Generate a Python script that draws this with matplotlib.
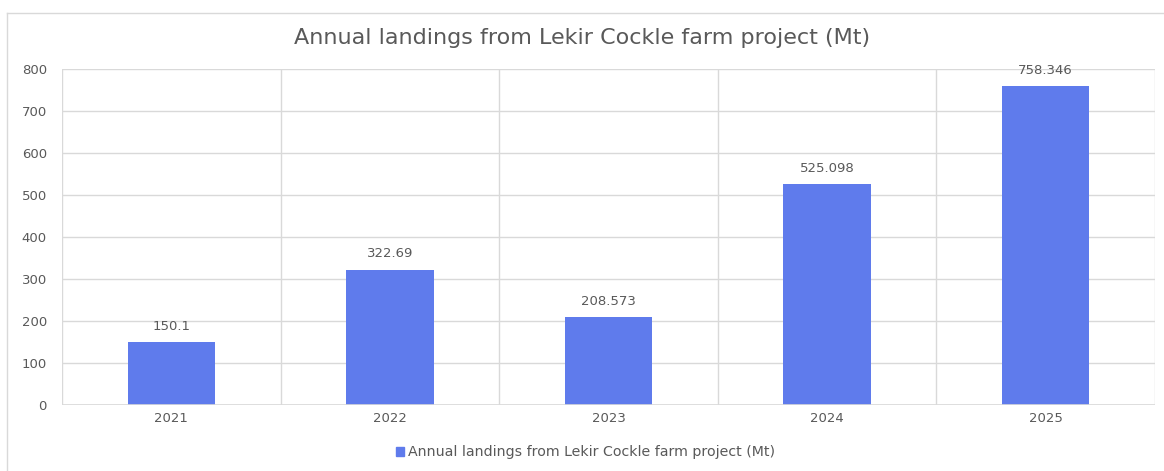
import matplotlib.pyplot as plt
from matplotlib.lines import Line2D

years = ["2021", "2022", "2023", "2024", "2025"]
landings = [150.1, 322.69, 208.573, 525.098, 758.346]
value_labels = ["150.1", "322.69", "208.573", "525.098", "758.346"]
series_name = "Annual landings from Lekir Cockle farm project (Mt)"
title = "Annual landings from Lekir Cockle farm project (Mt)"

BAR_COLOR = "#5f7bec"
TEXT_COLOR = "#595959"
GRID_COLOR = "#d9d9d9"

plt.rcParams["font.family"] = ["DejaVu Sans"]

fig = plt.figure(figsize=(11.64, 4.71), dpi=100)
ax = fig.add_axes([0.0533, 0.140, 0.9390, 0.7135])

x = list(range(len(years)))
ax.bar(x, landings, width=0.4, color=BAR_COLOR, zorder=3, label=series_name)
for xi, v, lab in zip(x, landings, value_labels):
    ax.text(xi, v + 22, lab, ha="center", va="bottom", fontsize=9.5, color=TEXT_COLOR)

ax.set_xlim(-0.5, len(years) - 0.5)
ax.set_ylim(0, 800)
ax.set_yticks(range(0, 801, 100))
ax.set_xticks(x)
ax.set_xticklabels(years)

# category separators and horizontal grid
for b in [i - 0.5 for i in range(len(years) + 1)]:
    ax.axvline(b, color=GRID_COLOR, lw=1, zorder=1)
ax.yaxis.grid(True, color=GRID_COLOR, lw=1, zorder=1)
for s in ax.spines.values():
    s.set_visible(False)
ax.axhline(0, color=GRID_COLOR, lw=1.2, zorder=4)

ax.tick_params(axis="both", length=0, labelsize=9.5, labelcolor=TEXT_COLOR)
ax.tick_params(axis="y", pad=11)
ax.tick_params(axis="x", pad=5)

fig.text(0.5, 0.92, title, ha="center", va="center", fontsize=16, color=TEXT_COLOR)

# outer chart frame (top and left edges)
fig.add_artist(Line2D([0.006, 1.0], [1 - 13 / 471, 1 - 13 / 471], color=GRID_COLOR, lw=1, transform=fig.transFigure))
fig.add_artist(Line2D([0.006, 0.006], [0.0, 1 - 13 / 471], color=GRID_COLOR, lw=1, transform=fig.transFigure))

handle = plt.Rectangle((0, 0), 1, 1, color=BAR_COLOR)
fig.legend([handle], [series_name], loc="center", bbox_to_anchor=(0.503, 0.04), frameon=False,
           fontsize=10.2, labelcolor=TEXT_COLOR, handlelength=0.6, handleheight=0.6, handletextpad=0.3)

fig.savefig("out.png", dpi=100)
